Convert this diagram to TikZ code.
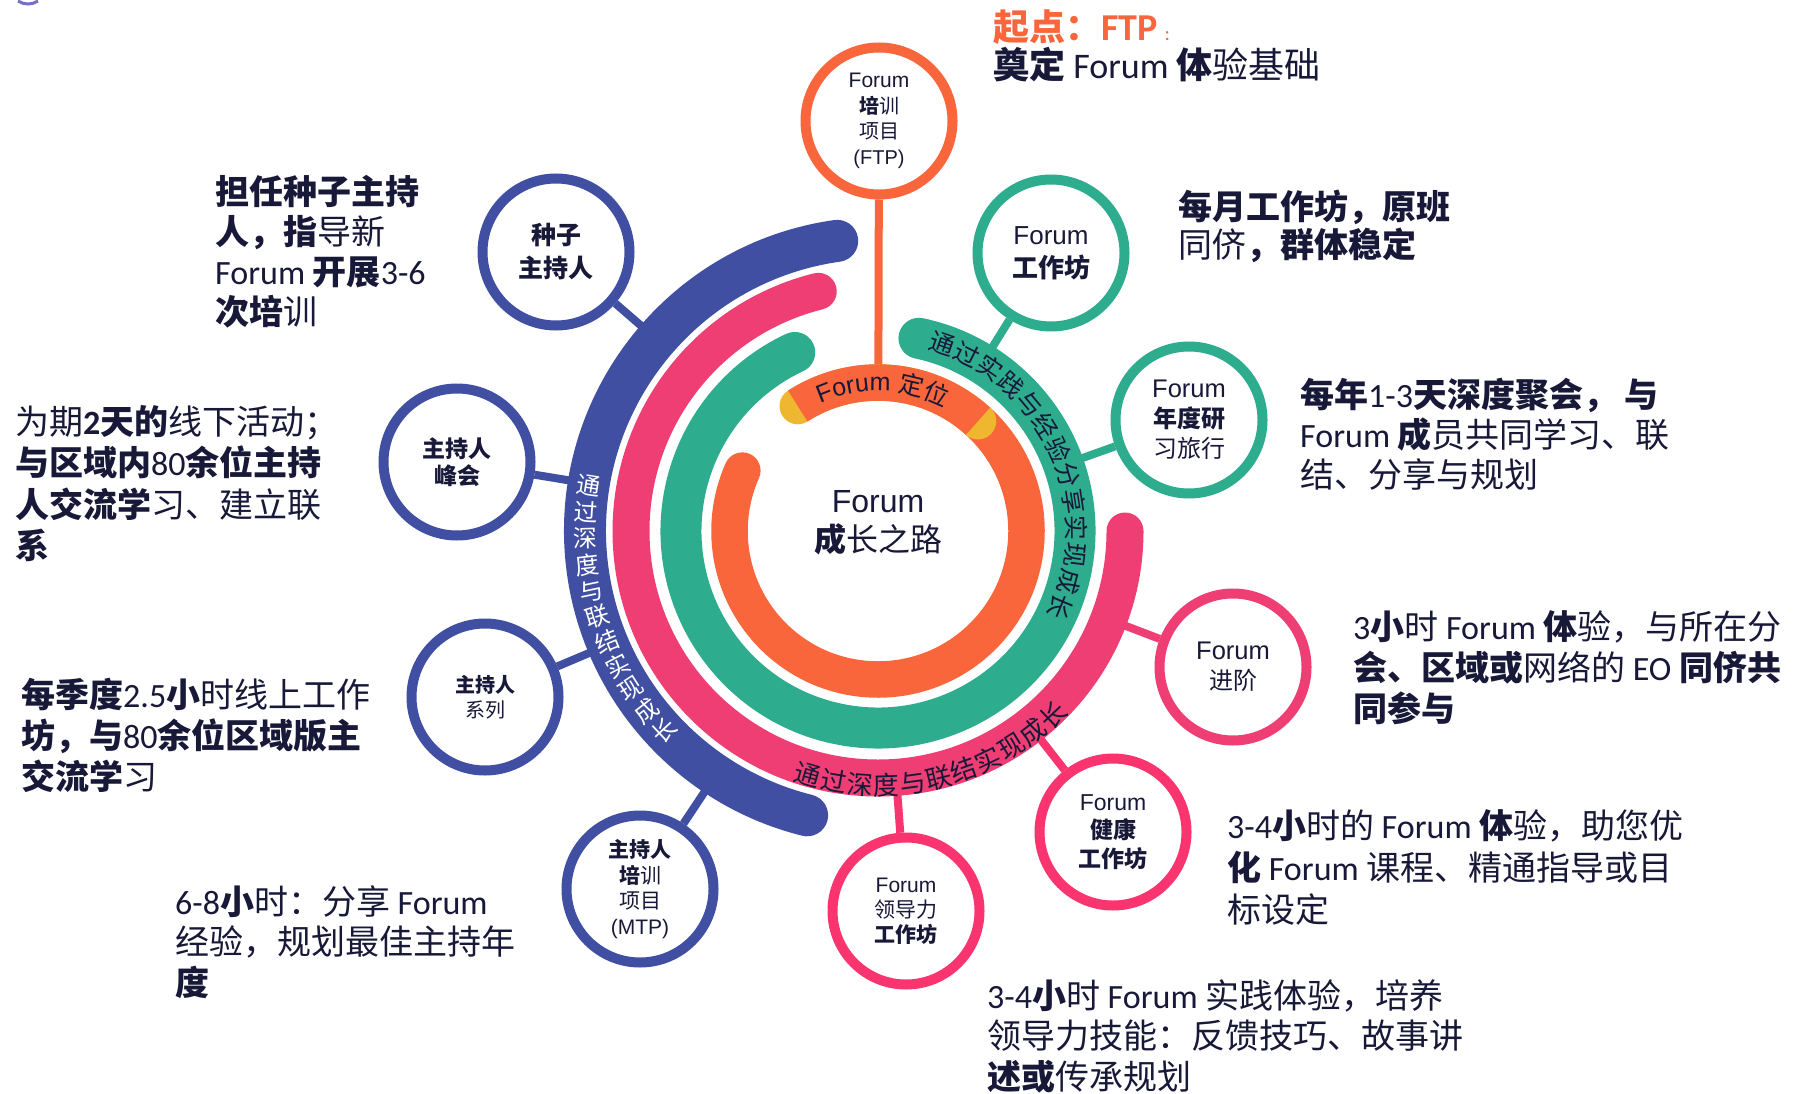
\documentclass[tikz,border=0pt]{standalone}
\usepackage{fontspec}
\setmainfont{Noto Sans CJK SC}
\newfontfamily\cjk{Noto Sans CJK SC}
\newfontfamily\lat{Carlito}
\newfontfamily\ari{Liberation Sans}
\usetikzlibrary{decorations.text,calc}
\definecolor{cOr}{RGB}{250,102,60}
\definecolor{cGr}{RGB}{45,172,142}
\definecolor{cPk}{RGB}{238,62,116}
\definecolor{cMg}{RGB}{250,52,110}
\definecolor{cBl}{RGB}{64,79,161}
\definecolor{cYe}{RGB}{239,182,48}
\definecolor{cTx}{RGB}{24,24,56}
\definecolor{cLav}{RGB}{120,110,200}
\newcommand\zb[1]{{\bfseries #1}}
\newcommand\zl[1]{{\lat #1}}
\newcommand\za[2]{{\ari\fontsize{#1}{#1}\selectfont #2}}
\tikzset{
  bubble/.style={circle, line width=10pt, minimum size=147pt, inner sep=0pt, fill=white, align=center, text=cTx},
  conn/.style={line width=8pt},
  desc/.style={anchor=base west, inner sep=0pt, align=left, text=cTx},
  ringch/.style={inner sep=0pt, anchor=center},
}
\begin{document}
\begin{tikzpicture}[x=1pt,y=1pt]
\fill[white] (0,0) rectangle (1793,-1094);
\useasboundingbox (0,0) rectangle (1793,-1094);
\draw[cLav, line width=3pt] (18,-1) .. controls (24,-5) and (32,-5) .. (38,-1);

\coordinate (O) at (878,-531);

% bubbles
\node[bubble, draw=cOr, font=\fontsize{20}{25.5}\selectfont] (ftp) at (879,-121) {\za{21}{Forum}\\\zb{培}训\\项目\\{\ari (FTP)}};
\node[bubble, draw=cGr, font=\fontsize{26}{33}\selectfont] (fws) at (1051,-253) {\za{26}{Forum}\\\zb{工作坊}};
\node[bubble, draw=cGr, font=\fontsize{24}{30}\selectfont] (fyr) at (1189,-420) {\za{25.5}{Forum}\\\zb{年度研}\\习旅行};
\node[bubble, draw=cPk, font=\fontsize{24}{30}\selectfont] (fad) at (1233,-667) {\za{25.5}{Forum}\\进阶};
\node[bubble, draw=cMg, font=\fontsize{23}{28.5}\selectfont] (fhe) at (1113,-832) {\za{23}{Forum}\\\zb{健康}\\\zb{工作坊}};
\node[bubble, draw=cMg, font=\fontsize{21}{25}\selectfont] (fld) at (906,-911) {\za{21}{Forum}\\领导力\\\zb{工作坊}};
\node[bubble, draw=cBl, font=\fontsize{21}{25.5}\selectfont] (mtp) at (640,-889) {\zb{主持人}\\\zb{培}训\\项目\\{\ari (MTP)}};
\node[bubble, draw=cBl, font=\fontsize{20}{25}\selectfont] (hse) at (485,-697) {\zb{主持人}\\系列};
\node[bubble, draw=cBl, font=\fontsize{23}{27}\selectfont] (hsu) at (457,-462) {\zb{主持人}\\\zb{峰会}};
\node[bubble, draw=cBl, font=\fontsize{25}{33}\selectfont] (seed) at (556,-252) {\zb{种子}\\\zb{主持人}};

% connector end points on the rings
\coordinate (eftp) at ($(O)!164pt!(ftp)$);
\coordinate (efws) at ($(O)!214pt!(fws)$);
\coordinate (efyr) at ($(O)!214pt!(fyr)$);
\coordinate (efad) at ($(O)!262pt!(fad)$);
\coordinate (efhe) at ($(O)!262pt!(fhe)$);
\coordinate (efld) at ($(O)!262pt!(fld)$);
\coordinate (emtp) at ($(O)!310pt!(mtp)$);
\coordinate (ehse) at ($(O)!310pt!(hse)$);
\coordinate (ehsu) at ($(O)!310pt!(hsu)$);
\coordinate (eseed) at ($(O)!310pt!(seed)$);

\draw[conn, cOr] (ftp) -- (eftp);
\draw[conn, cGr] (fws) -- (efws);
\draw[conn, cGr] (fyr) -- (efyr);
\draw[conn, cPk] (fad) -- (efad);
\draw[conn, cMg] (fhe) -- (efhe);
\draw[conn, cMg] (fld) -- (efld);
\draw[conn, cBl] (mtp) -- (emtp);
\draw[conn, cBl] (hse) -- (ehse);
\draw[conn, cBl] (hsu) -- (ehsu);
\draw[conn, cBl] (seed) -- (eseed);

% rings
\draw[line width=42pt, cBl, line cap=round] (O) ++(98:293pt) arc[start angle=98, end angle=256, radius=293pt];
\draw[line width=37pt, cPk, line cap=round] (O) ++(0:247pt) arc[start angle=0, end angle=-256, radius=247pt];
\draw[line width=41pt, cGr, line cap=round] (O) ++(78:197pt) arc[start angle=78, end angle=-245, radius=197pt];
\draw[line width=36.5pt, cOr, line cap=round] (O) ++(48:148.5pt) arc[start angle=48, end angle=-204, radius=148.5pt];
\draw[line width=36.5pt, cYe, line cap=round] (O) ++(47.7:148.5pt) arc[start angle=47.7, end angle=122.7, radius=148.5pt];
\draw[line width=36.5pt, cOr] (O) ++(47.7:148.5pt) arc[start angle=47.7, end angle=122.7, radius=148.5pt];

% ring texts
\path[decorate, decoration={text along path, text align=center, text color=cTx,
  text={|\ari\fontsize{25}{25}\selectfont|Forum |\cjk\fontsize{25}{25}\selectfont|定位}}]
  (O) ++(123:140pt) arc[start angle=123, end angle=53, radius=140pt];

\foreach \ch [count=\i from 0] in {通,过,实,践,与,经,验,分,享,实,现,成,长} {
  \pgfmathsetmacro{\ang}{71-7.8*\i}
  \node[ringch, text=cTx, font=\fontsize{25}{25}\selectfont, rotate=\ang-90] (gt\i) at ($(O)+(\ang:198pt)$) {\ch};
}
\foreach \ch [count=\i from 0] in {通,过,深,度,与,联,结,实,现,成,长} {
  \pgfmathsetmacro{\ang}{171+5.2*\i}
  \node[ringch, text=white, font=\fontsize{24}{24}\selectfont, rotate=\ang-180] (bt\i) at ($(O)+(\ang:293pt)$) {\ch};
}
\foreach \ch [count=\i from 0] in {通,过,深,度,与,联,结,实,现,成,长} {
  \pgfmathsetmacro{\ang}{254+5.96*\i}
  \node[ringch, text=cTx, font=\fontsize{26}{26}\selectfont, rotate=\ang+90] (pt\i) at ($(O)+(\ang:254pt)$) {\ch};
}

% centre
\node[align=center, text=cTx, font=\fontsize{32}{39}\selectfont] (ctr) at (878,-523) {{\ari Forum}\\\zb{成}长之路};

% descriptions (anchor = baseline of the last line)
\node[desc, font=\fontsize{36}{38.5}\selectfont] (dA) at (993,-79) {{\color{cOr}\zb{起点：}{\lat\bfseries\fontsize{38}{38}\selectfont FTP}\hspace{7pt}{\lat\fontsize{20}{20}\selectfont :}}\\\zb{奠定} \zl{Forum} \zb{体}验基础};
\node[desc, font=\fontsize{34}{38}\selectfont] (dB) at (1178,-257) {\zb{每月工作坊，原班}\\同侪\zb{，群体稳定}};
\node[desc, font=\fontsize{34}{40}\selectfont] (dC) at (1300,-487.5) {\zb{每年}\zl{1-3}\zb{天深度聚会，\ 与}\\\zl{Forum} \zb{成}员共同学习、联\\结、分享与规划};
\node[desc, font=\fontsize{34}{41}\selectfont] (dD) at (1353,-721.5) {\zl{3}\zb{小}时 \zl{Forum} \zb{体}验，与所在分\\\zb{会、区域或}网络的 \zl{EO} \zb{同侪共}\\\zb{同参与}};
\node[desc, font=\fontsize{34}{42}\selectfont] (dE) at (1227,-922.5) {\zl{3-4}\zb{小}时的 \zl{Forum} \zb{体}验，助您优\\\zb{化} \zl{Forum} 课程、精通指导或目\\标设定};
\node[desc, font=\fontsize{34}{40.5}\selectfont] (dF) at (987,-1089) {\zl{3-4}\zb{小}时 \zl{Forum} 实践体验，培养\\领导力技能：反馈技巧、故事讲\\\zb{述或}传承规划};
\node[desc, font=\fontsize{34}{40.5}\selectfont] (dG) at (175,-995) {\zl{6-8}\zb{小}时：分享 \zl{Forum}\\经验，规划最佳主持年\\\zb{度}};
\node[desc, font=\fontsize{34}{41}\selectfont] (dH) at (21,-789) {\zb{每季度}\zl{2.5}\zb{小}时线上工作\\\zb{坊，与}\zl{80}\zb{余位区域版主}\\\zb{交流学}习};
\node[desc, font=\fontsize{34}{41.5}\selectfont] (dI) at (15,-558.5) {为期\zb{{\lat 2}天的}线下活动；\\\zb{与区域内}\zl{80}\zb{余位主持}\\\zb{人交流学}习、建立联\\\zb{系}};
\node[desc, font=\fontsize{34}{40}\selectfont] (dJ) at (215,-324) {\zb{担任种子主持}\\\zb{人，指}导新\\\zl{Forum} \zb{开展}\zl{3-6}\\\zb{次培}训};
\end{tikzpicture}
\end{document}
